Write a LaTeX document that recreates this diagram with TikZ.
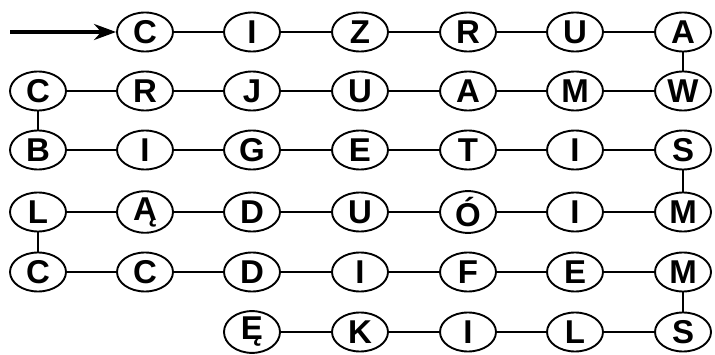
\documentclass[tikz,border=0pt]{standalone}
\usepackage{fontspec}
\setmainfont{Liberation Sans}
\usetikzlibrary{shapes.geometric,arrows.meta}
\begin{document}
\begin{tikzpicture}[x=1pt,y=-1pt,
  letter/.style={draw,ellipse,line width=1.9pt,minimum width=56pt,minimum height=39pt,inner sep=0pt,font=\fontsize{33}{33}\selectfont\bfseries},
  link/.style={line width=1.7pt}]
\useasboundingbox (0,0) rectangle (715,355);
% row 1
\node[letter] (a2) at (145,32) {C};
\node[letter] (a3) at (252,32) {I};
\node[letter] (a4) at (360,32) {Z};
\node[letter] (a5) at (468,32) {R};
\node[letter] (a6) at (575,32) {U};
\node[letter] (a7) at (683,32) {A};
% row 2
\node[letter] (b1) at (38,91) {C};
\node[letter] (b2) at (145,91) {R};
\node[letter] (b3) at (252,91) {J};
\node[letter] (b4) at (360,91) {U};
\node[letter] (b5) at (468,91) {A};
\node[letter] (b6) at (575,91) {M};
\node[letter] (b7) at (683,91) {W};
% row 3
\node[letter] (c1) at (38,150) {B};
\node[letter] (c2) at (145,150) {I};
\node[letter] (c3) at (252,150) {G};
\node[letter] (c4) at (360,150) {E};
\node[letter] (c5) at (468,150) {T};
\node[letter] (c6) at (575,150) {I};
\node[letter] (c7) at (683,150) {S};
% row 4
\node[letter] (d1) at (38,212) {L};
\node[letter] (d2) at (145,212) {Ą};
\node[letter] (d3) at (252,212) {D};
\node[letter] (d4) at (360,212) {U};
\node[letter] (d5) at (468,212) {Ó};
\node[letter] (d6) at (575,212) {I};
\node[letter] (d7) at (683,212) {M};
% row 5
\node[letter] (e1) at (38,272) {C};
\node[letter] (e2) at (145,272) {C};
\node[letter] (e3) at (252,272) {D};
\node[letter] (e4) at (360,272) {I};
\node[letter] (e5) at (468,272) {F};
\node[letter] (e6) at (575,272) {E};
\node[letter] (e7) at (683,272) {M};
% row 6
\node[letter] (f3) at (252,332) {Ę};
\node[letter] (f4) at (360,332) {K};
\node[letter] (f5) at (468,332) {I};
\node[letter] (f6) at (575,332) {L};
\node[letter] (f7) at (683,332) {S};
% horizontal links
\foreach \r/\s/\e in {a/2/7,b/1/7,c/1/7,d/1/7,e/1/7,f/3/7}{
  \pgfmathtruncatemacro{\last}{\e-1}
  \foreach \i in {\s,...,\last}{
    \pgfmathtruncatemacro{\j}{\i+1}
    \draw[link] (\r\i) -- (\r\j);
  }
}
% vertical links
\draw[link] (a7) -- (b7);
\draw[link] (b1) -- (c1);
\draw[link] (c7) -- (d7);
\draw[link] (d1) -- (e1);
\draw[link] (e7) -- (f7);
% entry arrow
\coordinate (start) at (10,32);
\draw[line width=3.4pt,-{Stealth[length=22pt,width=16pt]}] (start) -- (a2);
\end{tikzpicture}
\end{document}
